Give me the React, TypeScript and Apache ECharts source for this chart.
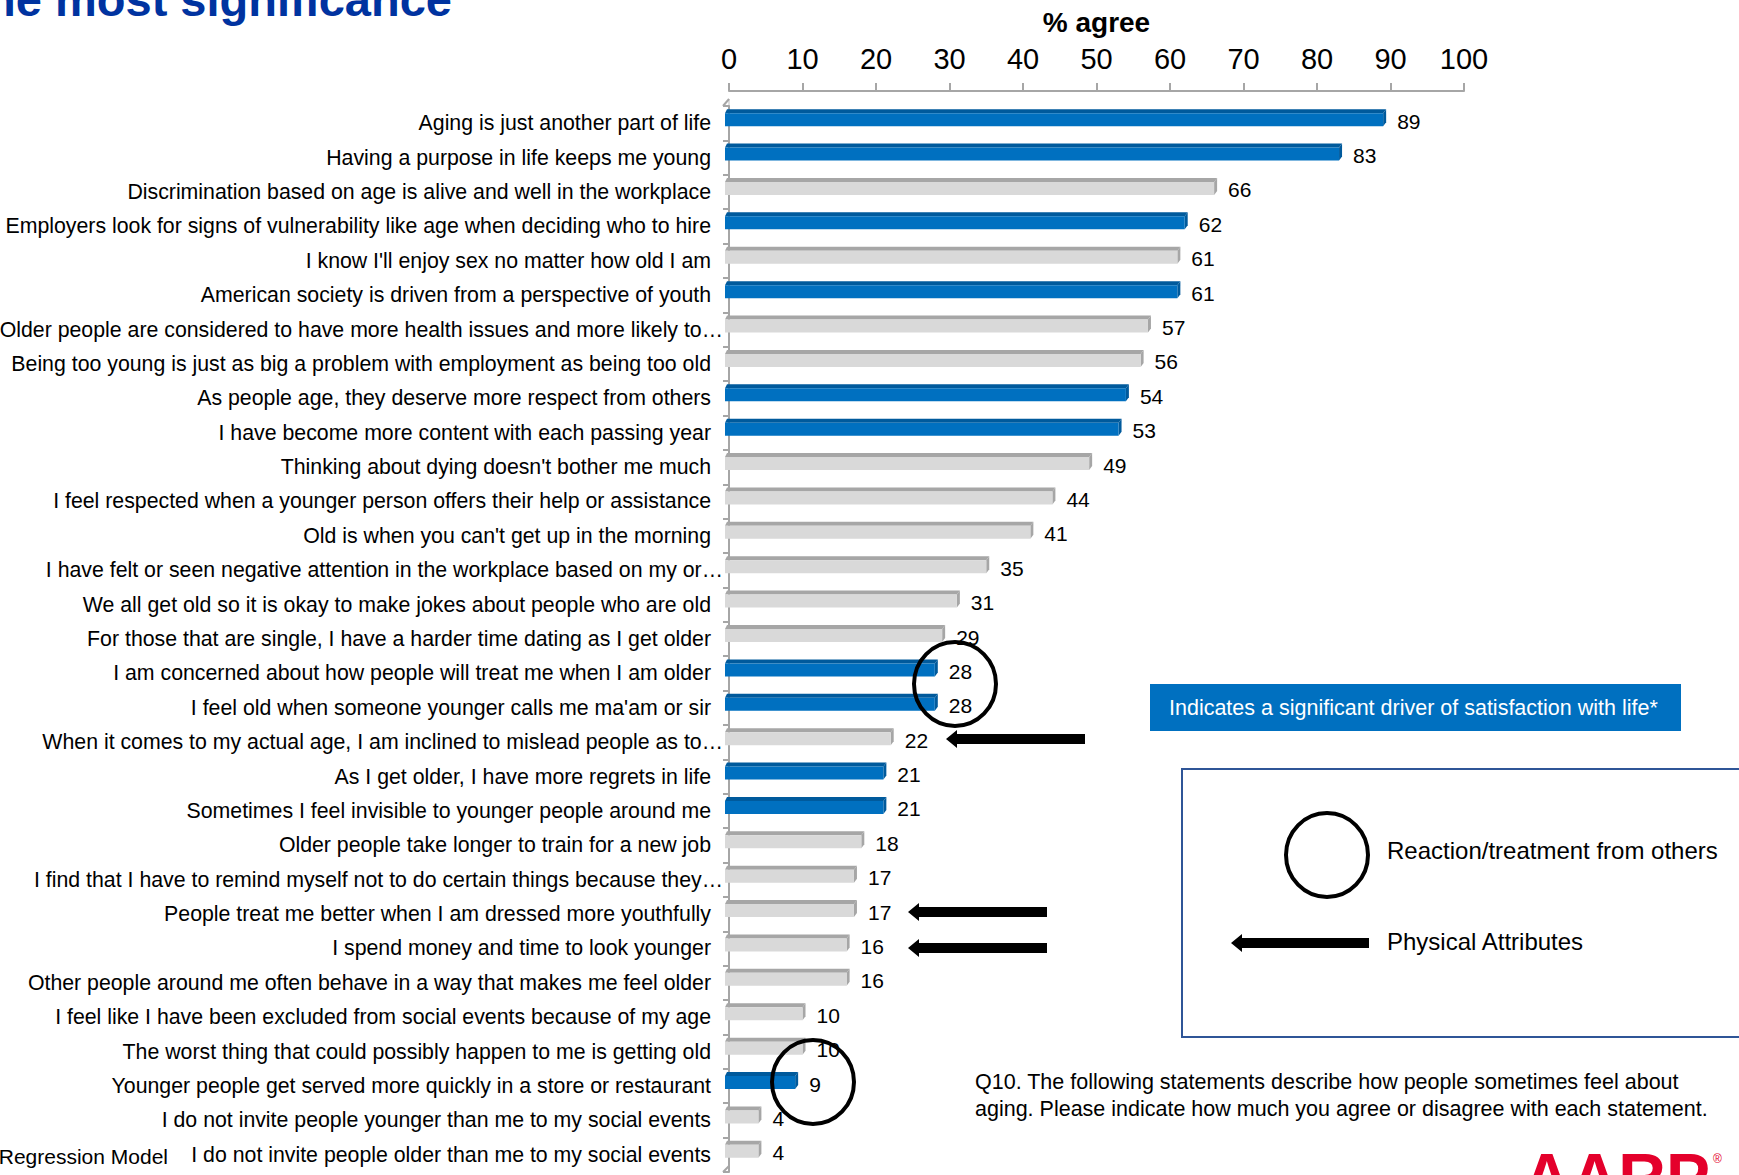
import React, { useEffect, useRef } from "react";
import * as echarts from "echarts";

const categories = [
  "Aging is just another part of life",
  "Having a purpose in life keeps me young",
  "Discrimination based on age is alive and well in the workplace",
  "Employers look for signs of vulnerability like age when deciding who to hire",
  "I know I'll enjoy sex no matter how old I am",
  "American society is driven from a perspective of youth",
  "Older people are considered to have more health issues and more likely to…",
  "Being too young is just as big a problem with employment as being too old",
  "As people age, they deserve more respect from others",
  "I have become more content with each passing year",
  "Thinking about dying doesn't bother me much",
  "I feel respected when a younger person offers their help or assistance",
  "Old is when you can't get up in the morning",
  "I have felt or seen negative attention in the workplace based on my or…",
  "We all get old so it is okay to make jokes about people who are old",
  "For those that are single, I have a harder time dating as I get older",
  "I am concerned about how people will treat me when I am older",
  "I feel old when someone younger calls me ma'am or sir",
  "When it comes to my actual age, I am inclined to mislead people as to…",
  "As I get older, I have more regrets in life",
  "Sometimes I feel invisible to younger people around me",
  "Older people take longer to train for a new job",
  "I find that I have to remind myself not to do certain things because they…",
  "People treat me better when I am dressed more youthfully",
  "I spend money and time to look younger",
  "Other people around me often behave in a way that makes me feel older",
  "I feel like I have been excluded from social events because of my age",
  "The worst thing that could possibly happen to me is getting old",
  "Younger people get served more quickly in a store or restaurant",
  "I do not invite people younger than me to my social events",
  "I do not invite people older than me to my social events",
];

const agreeValues = [89, 83, 66, 62, 61, 61, 57, 56, 54, 53, 49, 44, 41, 35, 31, 29, 28, 28, 22, 21, 21, 18, 17, 17, 16, 16, 10, 10, 9, 4, 4];

// true = significant driver of satisfaction with life (blue bar)
const significantDriver = [
  true, true, false, true, false, true, false, false, true, true,
  false, false, false, false, false, false, true, true, false, true,
  true, false, false, false, false, false, false, false, true, false, false,
];

const axisMin = 0;
const axisMax = 100;
const axisInterval = 10;

const FONT = '"Liberation Sans", Arial, sans-serif';

function arrow(tipX: number, tailX: number, y: number) {
  const hl = 11, hh = 9, sh = 5;
  return {
    type: "polygon",
    shape: {
      points: [
        [tipX, y], [tipX + hl, y - hh], [tipX + hl, y - sh], [tailX, y - sh],
        [tailX, y + sh], [tipX + hl, y + sh], [tipX + hl, y + hh],
      ],
    },
    style: { fill: "#000" },
  };
}

function ring(cx: number, cy: number, rx: number, ry: number) {
  return {
    type: "ellipse",
    shape: { cx, cy, rx, ry },
    style: { fill: "none", stroke: "#000", lineWidth: 4 },
    z: 10,
  };
}

export default function App() {
  const ref = useRef<HTMLDivElement>(null);
  useEffect(() => {
    if (!ref.current) return;
    const chart = echarts.init(ref.current, null, { renderer: "svg" });
    const labelFont = { fontSize: 21.3, fontFamily: FONT, color: "#000" };
    const option: any = {
      animation: false,
      backgroundColor: "#fff",
      grid: { left: 729, right: 275, top: 106, bottom: 3, containLabel: false, outerBoundsMode: "none" },
      xAxis: {
        type: "value",
        position: "top",
        min: axisMin,
        max: axisMax,
        interval: axisInterval,
        offset: 15,
        name: "% agree",
        nameLocation: "middle",
        nameGap: 55,
        nameMoveOverlap: false,
        nameTextStyle: { fontSize: 28, fontWeight: "bold", color: "#000", fontFamily: FONT },
        axisLine: { show: true, lineStyle: { color: "#A6A6A6", width: 2 } },
        axisTick: { show: true, length: 8, inside: false, lineStyle: { color: "#A6A6A6", width: 2 } },
        axisLabel: { fontSize: 29, color: "#000", margin: 18, fontFamily: FONT },
        splitLine: { show: false },
      },
      yAxis: {
        type: "category",
        data: categories,
        inverse: true,
        position: "left",
        offset: 6,
        axisLine: { show: true, lineStyle: { color: "#A6A6A6", width: 2 } },
        axisTick: { show: true, length: 6, lineStyle: { color: "#A6A6A6", width: 2 } },
        axisLabel: {
          ...labelFont,
          margin: 0,
          formatter: (value: string) => (value.endsWith("…") ? `{e|${value}}` : `{n|${value}}`),
          rich: {
            n: { ...labelFont, padding: [0, 12, 0, 0] },
            e: { ...labelFont, padding: [0, 0, 0, 0] },
          },
        },
        splitLine: { show: false },
      },
      series: [
        {
          type: "custom",
          encode: { x: 0, y: 1 },
          data: agreeValues.map((v, i) => [v, i]),
          renderItem: (params: any, api: any) => {
            const idx = params.dataIndex;
            const v = api.value(0);
            const end = api.coord([v, api.value(1)]);
            const start = api.coord([0, api.value(1)]);
            const x0 = start[0] - 4;
            const x1 = end[0];
            const yc = end[1];
            const top = yc - 10;
            const h = 13;
            const d = 4;
            const blue = significantDriver[idx];
            const main = blue ? "#0070C0" : "#D9D9D9";
            const dark = blue ? "#005A9C" : "#A6A6A6";
            return {
              type: "group",
              children: [
                {
                  type: "polygon",
                  shape: { points: [[x0, top], [x0 + 2, top - d], [x1 + 3, top - d], [x1, top]] },
                  style: { fill: dark },
                },
                {
                  type: "polygon",
                  shape: { points: [[x1, top], [x1 + 3, top - d], [x1 + 3, top + h - d], [x1, top + h]] },
                  style: { fill: dark },
                },
                {
                  type: "rect",
                  shape: { x: x0, y: top, width: x1 - x0, height: h },
                  style: { fill: main },
                },
                {
                  type: "text",
                  x: x1 + 14,
                  y: yc - 2,
                  style: {
                    text: String(v),
                    fill: "#000",
                    fontSize: 21,
                    fontFamily: FONT,
                    align: "left",
                    verticalAlign: "middle",
                  },
                },
              ],
            };
          },
        },
      ],
      graphic: [
        // back wall line
        { type: "line", shape: { x1: 729, y1: 99, x2: 729, y2: 1166 }, style: { stroke: "#BFBFBF", lineWidth: 1 } },
        { type: "line", shape: { x1: 723, y1: 106, x2: 729, y2: 99 }, style: { stroke: "#A6A6A6", lineWidth: 2 } },
        { type: "line", shape: { x1: 723, y1: 1172, x2: 729, y2: 1166 }, style: { stroke: "#A6A6A6", lineWidth: 2 } },
        // title (cut off)
        {
          type: "text",
          x: 452,
          y: 23,
          style: {
            text: "have the most significance",
            fill: "#0033A0",
            fontSize: 47,
            fontWeight: "bold",
            fontFamily: FONT,
            align: "right",
            verticalAlign: "bottom",
          },
        },
        {
          type: "text",
          x: 168,
          y: 1156,
          style: { text: "Regression Model", fill: "#000", fontSize: 21, fontFamily: FONT, align: "right", verticalAlign: "middle" },
        },
        // annotations
        ring(955, 684, 41, 42),
        ring(813, 1082, 41, 42),
        arrow(946, 1085, 739),
        arrow(908, 1047, 912),
        arrow(908, 1047, 948),
        // banner
        { type: "rect", shape: { x: 1150, y: 684, width: 531, height: 47 }, style: { fill: "#0070C0" } },
        {
          type: "text",
          x: 1169,
          y: 708,
          style: {
            text: "Indicates a significant driver of satisfaction with life*",
            fill: "#fff",
            fontSize: 21.5,
            fontFamily: FONT,
            align: "left",
            verticalAlign: "middle",
          },
        },
        // legend box
        { type: "rect", shape: { x: 1182, y: 769, width: 600, height: 268 }, style: { fill: "none", stroke: "#2F5597", lineWidth: 2 } },
        ring(1327, 855, 41, 42),
        {
          type: "text",
          x: 1387,
          y: 850,
          style: { text: "Reaction/treatment from others", fill: "#000", fontSize: 24, fontFamily: FONT, align: "left", verticalAlign: "middle" },
        },
        arrow(1231, 1369, 943),
        {
          type: "text",
          x: 1387,
          y: 941,
          style: { text: "Physical Attributes", fill: "#000", fontSize: 24, fontFamily: FONT, align: "left", verticalAlign: "middle" },
        },
        // footnote
        {
          type: "text",
          x: 975,
          y: 1068,
          style: {
            text: "Q10. The following statements describe how people sometimes feel about\naging. Please indicate how much you agree or disagree with each statement.",
            fill: "#000",
            fontSize: 21.5,
            lineHeight: 27,
            fontFamily: FONT,
            align: "left",
            verticalAlign: "top",
          },
        },
        // AARP logo (cut off)
        {
          type: "text",
          x: 1523,
          y: 1144,
          style: { text: "AARP", fill: "#E4002B", fontSize: 66, fontWeight: "bold", fontFamily: FONT, align: "left", verticalAlign: "top" },
        },
        {
          type: "text",
          x: 1713,
          y: 1153,
          style: { text: "®", fill: "#E4002B", fontSize: 12, fontFamily: FONT, align: "left", verticalAlign: "top" },
        },
      ],
    };
    chart.setOption(option);
    return () => chart.dispose();
  }, []);
  return (
    <div
      ref={ref}
      style={{ position: "absolute", left: 0, top: 0, width: 1739, height: 1175 }}
    />
  );
}
